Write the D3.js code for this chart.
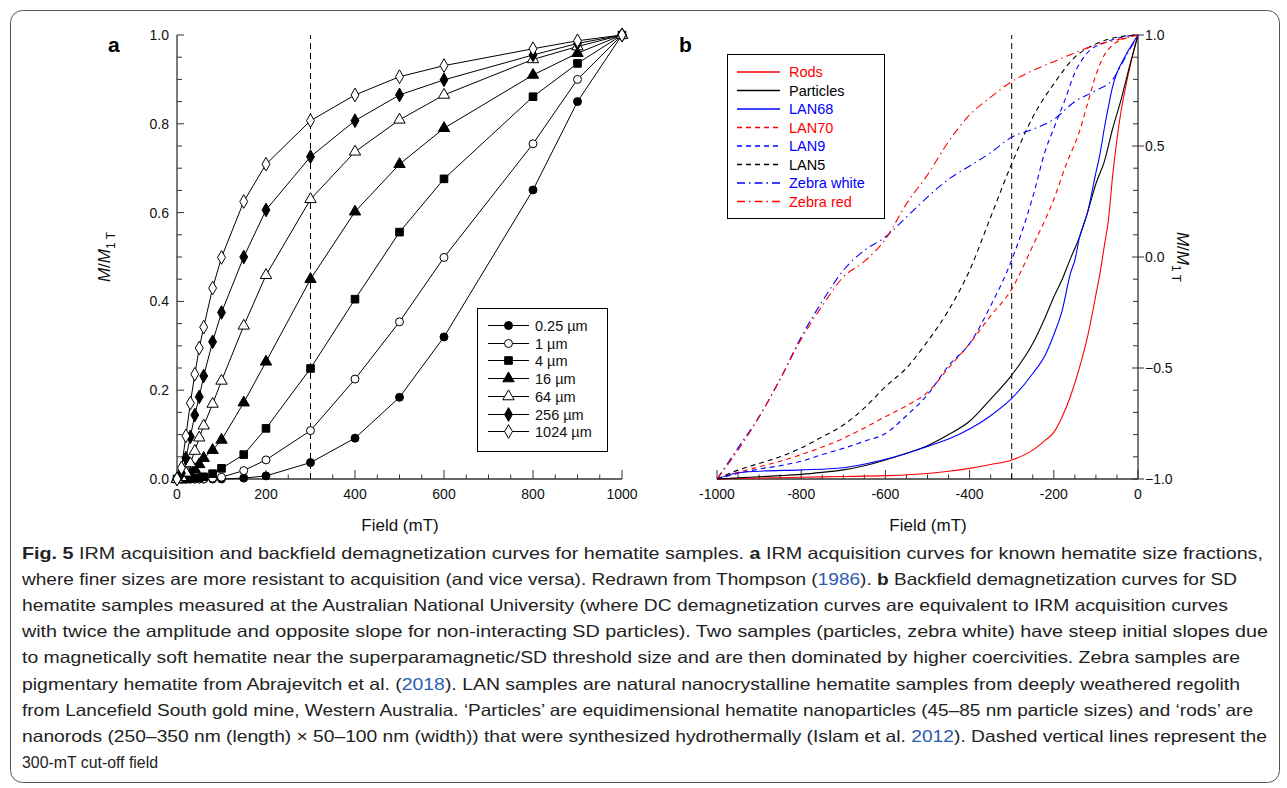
<!DOCTYPE html>
<html lang="en">
<head>
<meta charset="UTF-8">
<title>Fig. 5 IRM acquisition and backfield curves</title>
<script src="https://d3js.org/d3.v7.min.js"></script>
<style>
    body { margin: 0; background: #ffffff; }
    svg { display: block; font-family: 'Liberation Sans', Arial, sans-serif; }
    .caption { font-family: 'Liberation Sans Narrow', 'Liberation Sans', sans-serif; font-size: 16.5px; fill: #222; }
</style>
</head>
<body>
<div id="chart"></div>
<script>
// ---- panel a: IRM acquisition (Thompson 1986) ----
const fieldsA = [0, 10, 20, 30, 40, 50, 60, 80, 100, 150, 200, 300, 400, 500, 600, 800, 900, 1000];
const sizeLabels = ["0.25 \u00b5m", "1 \u00b5m", "4 \u00b5m", "16 \u00b5m", "64 \u00b5m", "256 \u00b5m", "1024 \u00b5m"];
const sizeSymbols = ["circle", "circle", "square", "triangle", "triangle", "diamond", "diamond"];
const sizeFilled = [true, false, true, true, false, true, false];
const irm025 = [0, 0, 0, 0, 0, 0, 0, 0, 0, 0.002, 0.007, 0.037, 0.092, 0.184, 0.32, 0.651, 0.85, 1.0];
const irm1 = [0, 0, 0, 0, 0, 0, 0, 0.002, 0.004, 0.019, 0.043, 0.109, 0.225, 0.354, 0.499, 0.755, 0.9, 1.0];
const irm4 = [0, 0, 0, 0.001, 0.002, 0.003, 0.005, 0.012, 0.024, 0.055, 0.114, 0.249, 0.405, 0.556, 0.676, 0.861, 0.936, 1.0];
const irm16 = [0, 0.002, 0.005, 0.012, 0.022, 0.033, 0.047, 0.065, 0.088, 0.172, 0.264, 0.45, 0.602, 0.709, 0.79, 0.91, 0.959, 1.0];
const irm64 = [0, 0.004, 0.014, 0.035, 0.063, 0.093, 0.12, 0.169, 0.221, 0.345, 0.459, 0.63, 0.737, 0.809, 0.865, 0.945, 0.974, 1.0];
const irm256 = [0, 0.013, 0.047, 0.095, 0.144, 0.185, 0.232, 0.309, 0.375, 0.5, 0.606, 0.726, 0.807, 0.865, 0.899, 0.955, 0.981, 1.0];
const irm1024 = [0, 0.025, 0.097, 0.171, 0.236, 0.295, 0.342, 0.43, 0.499, 0.625, 0.709, 0.807, 0.865, 0.906, 0.931, 0.969, 0.987, 1.0];
const irmSeries = [irm025, irm1, irm4, irm16, irm64, irm256, irm1024];

// ---- panel b: backfield demagnetization ----
const bNames = ["Rods", "Particles", "LAN68", "LAN70", "LAN9", "LAN5", "Zebra white", "Zebra red"];
const bColors = ["#ff0000", "#000000", "#0000ff", "#ff0000", "#0000ff", "#000000", "#0000ff", "#ff0000"];
const bStyles = ["solid", "solid", "solid", "dash", "dash", "dash", "dashdot", "dashdot"];

const rodsField = [-1000, -900, -800, -700, -600, -500, -450, -400, -350, -300, -250, -220, -200, -180, -160, -140, -120, -100, -90, -80, -70, -60, -50, -40, -30, -20, -10, 0];
const rodsM = [-1.0, -0.996, -0.992, -0.989, -0.985, -0.975, -0.965, -0.952, -0.935, -0.914, -0.87, -0.825, -0.79, -0.72, -0.625, -0.505, -0.36, -0.17, -0.07, 0.05, 0.17, 0.37, 0.53, 0.66, 0.76, 0.85, 0.93, 1.0];

const partField = [-1000, -950, -900, -850, -800, -750, -700, -650, -600, -550, -500, -450, -400, -350, -300, -250, -220, -200, -180, -160, -140, -120, -100, -80, -60, -40, -20, 0];
const partM = [-1.0, -0.995, -0.99, -0.985, -0.979, -0.97, -0.959, -0.94, -0.914, -0.884, -0.85, -0.8, -0.74, -0.64, -0.532, -0.39, -0.27, -0.18, -0.1, -0.005, 0.085, 0.2, 0.33, 0.43, 0.58, 0.71, 0.86, 1.0];

const lan68Field = [-1000, -950, -900, -800, -700, -600, -550, -500, -450, -400, -350, -300, -250, -220, -200, -180, -160, -150, -140, -120, -100, -90, -80, -70, -60, -50, -40, -27, -10, 0];
const lan68M = [-1.0, -0.972, -0.965, -0.959, -0.949, -0.911, -0.885, -0.853, -0.82, -0.775, -0.715, -0.637, -0.525, -0.44, -0.35, -0.24, -0.07, -0.015, 0.08, 0.2, 0.38, 0.467, 0.58, 0.68, 0.77, 0.83, 0.87, 0.917, 0.97, 1.0];

const lan70Field = [-1000, -950, -900, -850, -800, -750, -700, -650, -600, -550, -500, -450, -400, -350, -300, -250, -200, -170, -140, -120, -100, -80, -60, -30, 0];
const lan70M = [-1.0, -0.97, -0.945, -0.92, -0.89, -0.856, -0.817, -0.77, -0.719, -0.67, -0.61, -0.5, -0.39, -0.265, -0.145, 0.05, 0.26, 0.42, 0.56, 0.69, 0.82, 0.91, 0.955, 0.985, 1.0];

const lan9Field = [-1000, -950, -900, -850, -800, -750, -700, -650, -600, -550, -500, -450, -400, -350, -300, -250, -220, -200, -175, -150, -120, -80, -50, 0];
const lan9M = [-1.0, -0.975, -0.955, -0.94, -0.92, -0.89, -0.862, -0.83, -0.795, -0.715, -0.62, -0.49, -0.39, -0.22, -0.014, 0.27, 0.48, 0.58, 0.7, 0.83, 0.92, 0.965, 0.985, 1.0];

const lan5Field = [-1000, -950, -900, -850, -800, -750, -700, -650, -600, -550, -500, -450, -400, -350, -300, -250, -200, -150, -100, -50, 0];
const lan5M = [-1.0, -0.96, -0.93, -0.9, -0.86, -0.81, -0.757, -0.68, -0.584, -0.5, -0.38, -0.24, -0.06, 0.18, 0.42, 0.63, 0.78, 0.9, 0.96, 0.99, 1.0];

const zwField = [-1000, -950, -900, -850, -800, -750, -700, -650, -600, -550, -500, -450, -400, -350, -300, -250, -200, -150, -100, -60, -30, 0];
const zwM = [-1.0, -0.86, -0.72, -0.55, -0.36, -0.2, -0.06, 0.03, 0.09, 0.18, 0.27, 0.35, 0.41, 0.47, 0.54, 0.575, 0.62, 0.7, 0.75, 0.8, 0.9, 1.0];

const zrField = [-1000, -950, -900, -850, -800, -750, -700, -650, -600, -550, -500, -450, -400, -350, -300, -250, -200, -150, -100, -50, 0];
const zrM = [-1.0, -0.87, -0.72, -0.55, -0.37, -0.22, -0.09, -0.02, 0.08, 0.24, 0.37, 0.52, 0.64, 0.72, 0.79, 0.84, 0.88, 0.92, 0.955, 0.978, 1.0];

const bFields = [rodsField, partField, lan68Field, lan70Field, lan9Field, lan5Field, zwField, zrField];
const bValues = [rodsM, partM, lan68M, lan70M, lan9M, lan5M, zwM, zrM];

const cutoffA = 300, cutoffB = -300;

// ---- caption ----
const captionLines = [
    [["Fig. 5", "b"], ["  IRM acquisition and backfield demagnetization curves for hematite samples. ", ""], ["a", "b"], [" IRM acquisition curves for known hematite size fractions,", ""]],
    [["where finer sizes are more resistant to acquisition (and vice versa). Redrawn from Thompson (", ""], ["1986", "l"], ["). ", ""], ["b", "b"], [" Backfield demagnetization curves for SD", ""]],
    [["hematite samples measured at the Australian National University (where DC demagnetization curves are equivalent to IRM acquisition curves", ""]],
    [["with twice the amplitude and opposite slope for non-interacting SD particles). Two samples (particles, zebra white) have steep initial slopes due", ""]],
    [["to magnetically soft hematite near the superparamagnetic/SD threshold size and are then dominated by higher coercivities. Zebra samples are", ""]],
    [["pigmentary hematite from Abrajevitch et al. (", ""], ["2018", "l"], ["). LAN samples are natural nanocrystalline hematite samples from deeply weathered regolith", ""]],
    [["from Lancefield South gold mine, Western Australia. \u2018Particles\u2019 are equidimensional hematite nanoparticles (45\u201385 nm particle sizes) and \u2018rods\u2019 are", ""]],
    [["nanorods (250\u2013350 nm (length) \u00d7 50\u2013100 nm (width)) that were synthesized hydrothermally (Islam et al. ", ""], ["2012", "l"], ["). Dashed vertical lines represent the", ""]],
    [["300-mT cut-off field", ""]]
];
const captionWidths = [1241, 1215, 1206, 1246, 1218, 1218, 1231, 1245, 136];

const W = 1287, H = 788;
const svg = d3.select("#chart").append("svg").attr("width", W).attr("height", H);

svg.append("rect")
    .attr("x", 10.5).attr("y", 10.5)
    .attr("width", W - 18).attr("height", H - 16)
    .attr("rx", 12)
    .attr("fill", "none").attr("stroke", "#555").attr("stroke-width", 1);

const axisColor = "#333";

// ================= panel a =================
const xA = d3.scaleLinear().domain([0, 1000]).range([177, 622]);
const yA = d3.scaleLinear().domain([0, 1]).range([479, 35]);
const gA = svg.append("g");

// axes (ticks inside)
gA.append("line").attr("x1", xA(0)).attr("x2", xA(1000)).attr("y1", yA(0)).attr("y2", yA(0))
    .attr("stroke", axisColor).attr("stroke-width", 1.3);
gA.append("line").attr("x1", xA(0)).attr("x2", xA(0)).attr("y1", yA(0)).attr("y2", yA(1))
    .attr("stroke", axisColor).attr("stroke-width", 1.3);

d3.range(0, 1001, 50).forEach(v => {
    const major = v % 200 === 0;
    gA.append("line").attr("x1", xA(v)).attr("x2", xA(v))
        .attr("y1", yA(0)).attr("y2", yA(0) - (major ? 9 : 4.5))
        .attr("stroke", axisColor).attr("stroke-width", 1);
});
xA.ticks(5).forEach(v => {
    gA.append("text").attr("x", xA(v)).attr("y", 499).attr("text-anchor", "middle")
        .attr("font-size", 14).attr("fill", "#111").text(v);
});
d3.range(0, 21).map(i => i * 0.05).forEach((v, i) => {
    const major = i % 4 === 0;
    gA.append("line").attr("x1", xA(0)).attr("x2", xA(0) + (major ? 7 : 5))
        .attr("y1", yA(v)).attr("y2", yA(v))
        .attr("stroke", axisColor).attr("stroke-width", 1);
});
yA.ticks(5).forEach(v => {
    gA.append("text").attr("x", 169).attr("y", yA(v) + 5).attr("text-anchor", "end")
        .attr("font-size", 14).attr("fill", "#111").text(d3.format(".1f")(v));
});

gA.append("line").attr("x1", xA(cutoffA)).attr("x2", xA(cutoffA)).attr("y1", yA(0)).attr("y2", yA(1))
    .attr("stroke", "#000").attr("stroke-width", 1).attr("stroke-dasharray", "6,4");

const symType = { circle: d3.symbolCircle, square: d3.symbolSquare, triangle: d3.symbolTriangle, diamond: d3.symbolDiamond };
const symSize = { circle: 50, square: 58, triangle: 56, diamond: 54 };
function marker(g, i, x, y) {
    g.append("path")
        .attr("d", d3.symbol().type(symType[sizeSymbols[i]]).size(symSize[sizeSymbols[i]])())
        .attr("transform", `translate(${x},${y})`)
        .attr("fill", sizeFilled[i] ? "#000" : "#fff")
        .attr("stroke", "#000").attr("stroke-width", 1);
}

const lineA = d3.line().x(d => xA(d[0])).y(d => yA(d[1]));
irmSeries.forEach((vals, i) => {
    const pts = fieldsA.map((f, j) => [f, vals[j]]);
    gA.append("path").attr("d", lineA(pts)).attr("fill", "none").attr("stroke", "#000").attr("stroke-width", 1);
});
irmSeries.forEach((vals, i) => {
    fieldsA.forEach((f, j) => marker(gA, i, xA(f), yA(vals[j])));
});

// legend a
gA.append("rect").attr("x", 477.5).attr("y", 308.5).attr("width", 130).attr("height", 143)
    .attr("fill", "#fff").attr("stroke", "#000").attr("stroke-width", 1);
sizeLabels.forEach((lab, i) => {
    const y = Math.round(325 + i * 17.7) + 0.5;
    gA.append("line").attr("x1", 488).attr("x2", 529).attr("y1", y).attr("y2", y).attr("stroke", "#000");
    marker(gA, i, 508.5, y);
    gA.append("text").attr("x", 535).attr("y", y + 5).attr("font-size", 14.5).attr("fill", "#111").text(lab);
});

gA.append("text").attr("x", 400).attr("y", 531).attr("text-anchor", "middle").attr("font-size", 17).attr("fill", "#111").text("Field (mT)");
gA.append("text").attr("x", 108).attr("y", 52).attr("font-size", 21).attr("font-weight", "bold").text("a");

const yLabA = gA.append("text").attr("transform", "translate(110,257) rotate(-90)")
    .attr("text-anchor", "middle").attr("font-size", 17).attr("fill", "#111");
yLabA.append("tspan").attr("font-style", "italic").text("M");
yLabA.append("tspan").text("/");
yLabA.append("tspan").attr("font-style", "italic").text("M");
yLabA.append("tspan").attr("font-size", 12).attr("dy", 5).text("1 T");

// ================= panel b =================
const xB = d3.scaleLinear().domain([-1000, 0]).range([717, 1138]);
const yB = d3.scaleLinear().domain([-1, 1]).range([479, 35]);
const gB = svg.append("g");

gB.append("line").attr("x1", xB(-1000)).attr("x2", xB(0)).attr("y1", yB(-1)).attr("y2", yB(-1))
    .attr("stroke", axisColor).attr("stroke-width", 1.3);
gB.append("line").attr("x1", xB(0)).attr("x2", xB(0)).attr("y1", yB(-1)).attr("y2", yB(1))
    .attr("stroke", axisColor).attr("stroke-width", 1.3);

d3.range(-1000, 1, 50).forEach(v => {
    const major = v % 200 === 0;
    gB.append("line").attr("x1", xB(v)).attr("x2", xB(v))
        .attr("y1", yB(-1)).attr("y2", yB(-1) - (major ? 9 : 4.5))
        .attr("stroke", axisColor).attr("stroke-width", 1);
});
xB.ticks(5).forEach(v => {
    gB.append("text").attr("x", xB(v)).attr("y", 499).attr("text-anchor", "middle")
        .attr("font-size", 14).attr("fill", "#111").text(v);
});
d3.range(0, 21).map(i => -1 + i * 0.1).forEach((v, i) => {
    const major = i % 5 === 0;
    gB.append("line").attr("x1", xB(0) - (major ? 6 : 5)).attr("x2", xB(0) + (major ? 6 : 0))
        .attr("y1", yB(v)).attr("y2", yB(v))
        .attr("stroke", axisColor).attr("stroke-width", 1);
});
[-1, -0.5, 0, 0.5, 1].forEach(v => {
    gB.append("text").attr("x", 1145).attr("y", yB(v) + 5).attr("text-anchor", "start")
        .attr("font-size", 14).attr("fill", "#111").text(d3.format(".1f")(v));
});

gB.append("line").attr("x1", xB(cutoffB)).attr("x2", xB(cutoffB)).attr("y1", yB(-1)).attr("y2", yB(1))
    .attr("stroke", "#000").attr("stroke-width", 1).attr("stroke-dasharray", "6,4");

const dashes = { solid: null, dash: "5,4", dashdot: "8,4,1.5,4" };
const lineB = d3.line().x(d => xB(d[0])).y(d => yB(d[1])).curve(d3.curveMonotoneX);
bNames.forEach((name, i) => {
    const pts = bFields[i].map((f, j) => [f, bValues[i][j]]);
    gB.append("path").attr("d", lineB(pts)).attr("fill", "none")
        .attr("stroke", bColors[i]).attr("stroke-width", 1.1)
        .attr("stroke-dasharray", dashes[bStyles[i]]);
});

// legend b
gB.append("rect").attr("x", 727.5).attr("y", 54.5).attr("width", 157).attr("height", 164)
    .attr("fill", "#fff").attr("stroke", "#000").attr("stroke-width", 1);
bNames.forEach((name, i) => {
    const y = 72 + i * 18.5;
    gB.append("line").attr("x1", 737).attr("x2", 780).attr("y1", y).attr("y2", y)
        .attr("stroke", bColors[i]).attr("stroke-width", 1.5)
        .attr("stroke-dasharray", dashes[bStyles[i]]);
    gB.append("text").attr("x", 789).attr("y", y + 5).attr("font-size", 14.5).attr("fill", bColors[i]).text(name);
});

gB.append("text").attr("x", 928).attr("y", 531).attr("text-anchor", "middle").attr("font-size", 17).attr("fill", "#111").text("Field (mT)");
gB.append("text").attr("x", 679).attr("y", 52).attr("font-size", 21).attr("font-weight", "bold").text("b");

const yLabB = gB.append("text").attr("transform", "translate(1177,257) rotate(90)")
    .attr("text-anchor", "middle").attr("font-size", 17).attr("fill", "#111");
yLabB.append("tspan").attr("font-style", "italic").text("M");
yLabB.append("tspan").text("/");
yLabB.append("tspan").attr("font-style", "italic").text("M");
yLabB.append("tspan").attr("font-size", 12).attr("dy", 5).text("1 T");

// ================= caption =================
captionLines.forEach((segs, i) => {
    const t = svg.append("text").attr("class", "caption")
        .attr("x", 22).attr("y", 559 + i * 26.1)
        .attr("textLength", captionWidths[i]).attr("lengthAdjust", "spacingAndGlyphs");
    segs.forEach(([s, st]) => {
        const sp = t.append("tspan").text(s);
        if (st === "b") sp.attr("font-weight", "bold");
        if (st === "l") sp.attr("fill", "#2a5db0");
    });
});
</script>
</body>
</html>
